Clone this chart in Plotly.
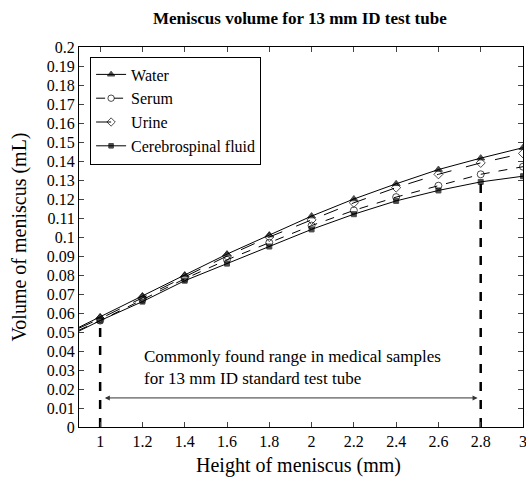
import plotly.graph_objects as go

heights = [0.9, 1.0, 1.2, 1.4, 1.6, 1.8, 2.0, 2.2, 2.4, 2.6, 2.8, 3.0]
water = [0.0525, 0.058, 0.069, 0.080, 0.091, 0.101, 0.111, 0.120, 0.128, 0.1355, 0.1415, 0.147]
serum = [0.0510, 0.056, 0.067, 0.078, 0.088, 0.097, 0.106, 0.114, 0.121, 0.127, 0.133, 0.137]
urine = [0.0520, 0.057, 0.068, 0.079, 0.090, 0.100, 0.109, 0.118, 0.126, 0.133, 0.139, 0.144]
csf = [0.0505, 0.056, 0.066, 0.077, 0.086, 0.095, 0.104, 0.112, 0.119, 0.1245, 0.129, 0.132]

x_ticks = [1, 1.2, 1.4, 1.6, 1.8, 2, 2.2, 2.4, 2.6, 2.8, 3]
x_ticktext = ["1", "1.2", "1.4", "1.6", "1.8", "2", "2.2", "2.4", "2.6", "2.8", "3"]
y_ticks = [i / 100 for i in range(21)]
y_ticktext = ["0"] + [("%g" % (i / 100)) for i in range(1, 21)]

range_start = 1.0
range_end = 2.8
arrow_y = 0.0153

FONT = "Liberation Serif"

series = [
    ("Water", water, "solid", "triangle-up", "black"),
    ("Serum", serum, "dash", "circle-open", "black"),
    ("Urine", urine, "longdash", "diamond-open", "black"),
    ("Cerebrospinal fluid", csf, "solid", "square", "black"),
]

fig = go.Figure()
for name, vals, dash, sym, col in series:
    sizes = [0] + [7] * (len(heights) - 1)
    if sym == "square":
        sizes = [0] + [5] * (len(heights) - 1)
    fig.add_trace(go.Scatter(
        x=heights, y=vals, name=name, mode="lines+markers",
        line=dict(color="black", width=1, dash=dash),
        marker=dict(symbol=sym, size=sizes, color=col, line=dict(color="black", width=1)),
    ))

# dashed vertical range lines
fig.add_trace(go.Scatter(x=[range_start, range_start], y=[0, csf[1] - 0.001], mode="lines",
                         line=dict(color="black", width=2.5, dash="dash"), showlegend=False, hoverinfo="skip"))
fig.add_trace(go.Scatter(x=[range_end, range_end], y=[0, csf[10] - 0.001], mode="lines",
                         line=dict(color="black", width=2.5, dash="dash"), showlegend=False, hoverinfo="skip"))

fig.add_annotation(x=range_end - 0.015, y=arrow_y, ax=range_start + 0.015, ay=arrow_y,
                   xref="x", yref="y", axref="x", ayref="y", text="", showarrow=True,
                   arrowhead=2, arrowside="end+start", arrowsize=1, arrowwidth=1, arrowcolor="#333")
fig.add_annotation(x=1.2, y=0.037, xref="x", yref="y", xanchor="left", yanchor="middle",
                   text="Commonly found range in medical samples", showarrow=False,
                   font=dict(family=FONT, size=17, color="black"))
fig.add_annotation(x=1.2, y=0.0255, xref="x", yref="y", xanchor="left", yanchor="middle",
                   text="for 13 mm ID standard test tube", showarrow=False,
                   font=dict(family=FONT, size=17, color="black"))
# x axis title
fig.add_annotation(x=0.495, y=-0.1, xref="paper", yref="paper", xanchor="center", yanchor="middle",
                   text="Height of meniscus (mm)", showarrow=False,
                   font=dict(family=FONT, size=20, color="black"))

fig.update_layout(
    width=526, height=487,
    margin=dict(l=79, r=3, t=47, b=60),
    paper_bgcolor="white", plot_bgcolor="white",
    font=dict(family=FONT, size=16, color="black"),
    title=dict(text="<b>Meniscus volume for 13 mm ID test tube</b>", x=0.57, xanchor="center",
               y=0.963, yanchor="middle", font=dict(family=FONT, size=17, color="black")),
    legend=dict(x=0.025, y=0.975, xanchor="left", yanchor="top", bgcolor="white",
                bordercolor="black", borderwidth=1, font=dict(family=FONT, size=16),
                tracegroupgap=0, itemwidth=30),
    xaxis=dict(range=[0.9, 3.0], tickvals=x_ticks, ticktext=x_ticktext, ticks="inside", ticklen=5,
               showline=True, linecolor="black", linewidth=1, mirror="ticks", showgrid=False,
               zeroline=False, tickfont=dict(family=FONT, size=16), ticklabeloverflow="allow",
               automargin=False),
    yaxis=dict(range=[0, 0.2], tickvals=y_ticks, ticktext=y_ticktext, ticks="inside", ticklen=5,
               showline=True, linecolor="black", linewidth=1, mirror="ticks", showgrid=False,
               zeroline=False, tickfont=dict(family=FONT, size=16), ticklabeloverflow="allow",
               title=dict(text="Volume of meniscus (mL)", font=dict(family=FONT, size=20), standoff=14)),
)

fig.write_html("out.html", config={"displayModeBar": False},
               post_script="document.body.style.margin='0';")
